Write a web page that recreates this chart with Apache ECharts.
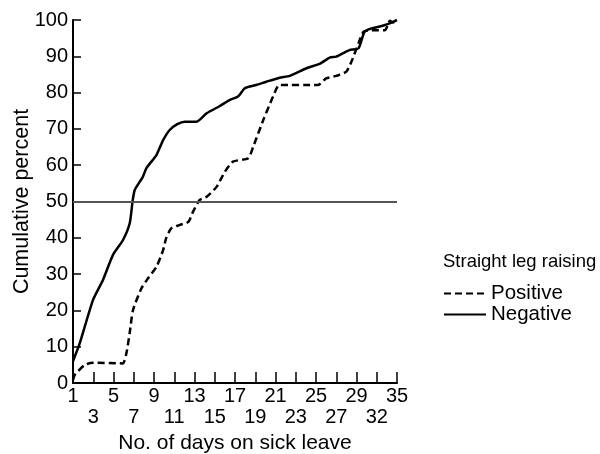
<!DOCTYPE html>
<html>
<head>
<meta charset="utf-8">
<script src="https://cdn.jsdelivr.net/npm/echarts@6/dist/echarts.min.js"></script>
<style>
  html, body { margin: 0; padding: 0; background: #fff; }
  #chart { width: 600px; height: 454px; }
</style>
</head>
<body>
<div id="chart"></div>
<script>
// tick positions on the x axis and the day they stand for (tail is compressed)
const tickPos = [1, 3, 5, 7, 9, 11, 13, 15, 17, 19, 21, 23, 25, 27, 29, 31, 33];
const tickLabels = ['1', '3', '5', '7', '9', '11', '13', '15', '17', '19', '21', '23', '25', '27', '29', '32', '35'];

// Negative straight leg raising (solid line)
const negDays = [1, 1.66, 2.98, 3.96, 4.95, 5.94, 6.6, 6.9, 7.1, 7.9, 8.25, 9.24, 9.9, 10.55, 11.3, 12.04, 13.2, 14.2, 15.5, 16.5, 17.3, 17.97, 19.1, 20.1, 21.4, 22.4, 24.06, 25.4, 26.4, 27, 28.3, 29.2, 29.8, 30.5, 31.3, 32, 32.6, 33];
const negPct = [6, 10.9, 22.9, 28.4, 35.3, 39.4, 44, 50.4, 53.2, 56.8, 59.2, 62.8, 66.9, 69.7, 71.3, 72, 72, 74.3, 76.3, 78, 78.9, 81.2, 82.1, 83, 84.1, 84.6, 86.7, 88, 89.7, 89.9, 91.7, 92.2, 96.8, 97.7, 98.2, 98.8, 99.5, 100];

// Positive straight leg raising (dashed line)
const posDays = [1, 1.17, 2.16, 2.98, 5.9, 6.28, 6.6, 6.93, 7.76, 8.4, 9.24, 9.9, 10.2, 10.7, 11.5, 12.4, 12.86, 13.5, 14.2, 15.2, 16.0, 16.8, 18.3, 18.8, 19.8, 20.76, 21.4, 25.2, 26.0, 27.0, 28.0, 28.5, 29.2, 29.7, 30.5, 31.8, 32.3, 32.6, 33];
const posPct = [0.8, 2.2, 5, 5.6, 5.4, 8.3, 13.8, 20.1, 26.1, 28.8, 32, 36.6, 39.9, 42.6, 43.5, 44.4, 47.2, 50.4, 51.3, 54.1, 58.2, 61, 61.9, 65.1, 72.5, 78.9, 82.1, 82.1, 83.9, 84.6, 85.8, 88.5, 93.6, 96.8, 97.2, 97.2, 99.8, 99.3, 100];

const refLine = 50;

const zip = (xs, ys) => xs.map((x, i) => [x, ys[i]]);
const font = 'Liberation Sans, Arial, sans-serif';

// labels are split over two rows: even tick index on the first row, odd on the second
function rowLabel(row) {
  return function (v) {
    const i = tickPos.indexOf(v);
    if (i < 0 || i % 2 !== row) return '';
    return tickLabels[i];
  };
}

const baseX = {
  type: 'value',
  min: 1,
  max: 33,
  interval: 2,
  splitLine: { show: false }
};

const chart = echarts.init(document.getElementById('chart'));

chart.setOption({
  backgroundColor: '#fff',
  animation: false,
  textStyle: { fontFamily: font, color: '#000' },
  title: {
    text: 'Straight leg raising',
    left: 443,
    top: 252,
    padding: 0,
    textStyle: { fontFamily: font, fontSize: 18.5, fontWeight: 'normal', color: '#000' }
  },
  legend: {
    orient: 'vertical',
    left: 443,
    top: 283,
    padding: 0,
    itemWidth: 42,
    itemHeight: 2,
    itemGap: 0,
    itemStyle: { opacity: 0 },
    textStyle: { fontFamily: font, fontSize: 20.5, lineHeight: 21, color: '#000' },
    data: ['Positive', 'Negative']
  },
  grid: { left: 73, right: 203, top: 20, bottom: 71, containLabel: false, outerBoundsMode: 'none' },
  xAxis: [
    Object.assign({}, baseX, {
      name: 'No. of days on sick leave',
      nameLocation: 'middle',
      nameGap: 50,
      nameMoveOverlap: false,
      nameTextStyle: { fontFamily: font, fontSize: 21, color: '#000' },
      axisLine: { lineStyle: { color: '#000', width: 2 } },
      axisTick: { inside: true, length: 11, lineStyle: { color: '#000', width: 1.5 } },
      axisLabel: {
        margin: 3,
        showMinLabel: true,
        showMaxLabel: true,
        hideOverlap: false,
        fontFamily: font,
        fontSize: 20,
        color: '#000',
        formatter: rowLabel(0)
      }
    }),
    Object.assign({}, baseX, {
      position: 'bottom',
      axisLine: { show: false },
      axisTick: { show: false },
      axisLabel: {
        margin: 24,
        showMinLabel: true,
        showMaxLabel: true,
        hideOverlap: false,
        fontFamily: font,
        fontSize: 20,
        color: '#000',
        formatter: rowLabel(1)
      }
    })
  ],
  yAxis: {
    type: 'value',
    min: 0,
    max: 100,
    interval: 10,
    name: 'Cumulative percent',
    nameLocation: 'middle',
    nameGap: 40,
    nameMoveOverlap: false,
    nameRotate: 90,
    nameTextStyle: { fontFamily: font, fontSize: 21.5, color: '#000' },
    axisLine: { show: true, lineStyle: { color: '#000', width: 2 } },
    axisTick: { show: true, inside: true, length: 8, lineStyle: { color: '#000', width: 1.5 } },
    splitLine: { show: false },
    axisLabel: { margin: 5, fontFamily: font, fontSize: 20, color: '#000' }
  },
  series: [
    {
      name: 'Positive',
      type: 'line',
      xAxisIndex: 0,
      data: zip(posDays, posPct),
      symbol: 'none',
      smooth: 0.2,
      lineStyle: { color: '#000', width: 2.5, type: [7, 4] },
      itemStyle: { color: '#000' },
      z: 3
    },
    {
      name: 'Negative',
      type: 'line',
      xAxisIndex: 0,
      data: zip(negDays, negPct),
      symbol: 'none',
      smooth: 0.2,
      lineStyle: { color: '#000', width: 2.5, type: 'solid' },
      itemStyle: { color: '#000' },
      z: 3,
      markLine: {
        silent: true,
        symbol: 'none',
        label: { show: false },
        lineStyle: { color: '#555', width: 2, type: 'solid' },
        data: [{ yAxis: refLine }]
      }
    }
  ]
});
</script>
</body>
</html>
